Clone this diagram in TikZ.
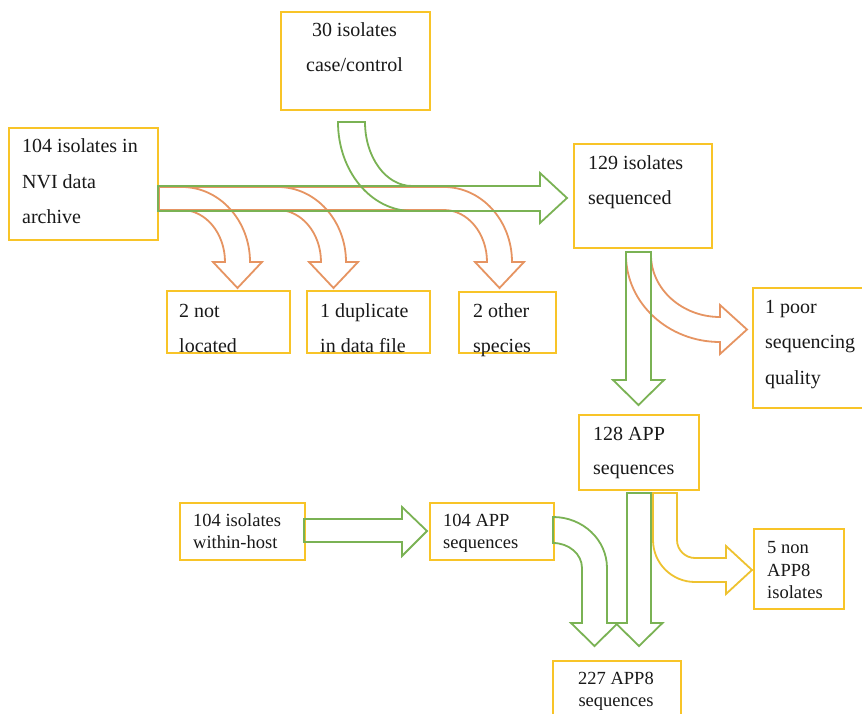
\documentclass[tikz,border=0pt]{standalone}
\usepackage{fontspec}
\setmainfont{Liberation Serif}
\newfontfamily\flowfont{Liberation Serif}
\usetikzlibrary{calc}

\definecolor{boxgold}{RGB}{248,196,40}
\definecolor{flowgreen}{RGB}{122,178,84}
\definecolor{floworange}{RGB}{230,148,98}
\definecolor{flowyellow}{RGB}{238,194,48}
\definecolor{inkgrey}{RGB}{25,25,25}

\tikzset{
  box/.style={draw=boxgold, line width=2.2pt, fill=none, inner sep=0pt, anchor=north west},
  bigtxt/.style={inner sep=0pt, text=inkgrey, font=\flowfont\fontsize{20}{35}\selectfont},
  smalltxt/.style={inner sep=0pt, text=inkgrey, font=\flowfont\fontsize{18.5}{22}\selectfont},
  garrow/.style={draw=flowgreen, line width=1.8pt, line join=miter},
  oarrow/.style={draw=floworange, line width=1.8pt, line join=miter},
  yarrow/.style={draw=flowyellow, line width=1.8pt, line join=miter}
}

\begin{document}
\begin{tikzpicture}[x=1pt, y=-1pt]
  \fill[white] (0,0) rectangle (862,714);
  \useasboundingbox (0,0) rectangle (862,714);

  % ---- boxes ----
  \node[box, minimum width=149, minimum height=98]  (b30)   at (280,11)  {};
  \node[box, minimum width=149, minimum height=112] (bNVI)  at (8,127)   {};
  \node[box, minimum width=138, minimum height=104] (bSeq)  at (573,143) {};
  \node[box, minimum width=123, minimum height=62]  (bNL)   at (166,290) {};
  \node[box, minimum width=123, minimum height=62]  (bDup)  at (306,290) {};
  \node[box, minimum width=97,  minimum height=61]  (bOth)  at (458,291) {};
  \node[box, minimum width=116, minimum height=120] (bPoor) at (752,287) {};
  \node[box, minimum width=120, minimum height=75]  (b128)  at (578,414) {};
  \node[box, minimum width=125, minimum height=57]  (bWH)   at (179,502) {};
  \node[box, minimum width=124, minimum height=57]  (bAPP)  at (429,502) {};
  \node[box, minimum width=90,  minimum height=80]  (bNon)  at (753,528) {};
  \node[box, minimum width=128, minimum height=60]  (b227)  at (552,660) {};

  % ---- labels ----
  \node[bigtxt, anchor=base] (t30) at (354.5,37)
    {\begin{tabular}[t]{@{}c@{}}30 isolates\\case/control\end{tabular}};
  \node[bigtxt, anchor=base west, font=\flowfont\fontsize{20}{35.5}\selectfont] (tNVI) at (22,153)
    {\begin{tabular}[t]{@{}l@{}}104 isolates in\\NVI data\\archive\end{tabular}};
  \node[bigtxt, anchor=base west, font=\flowfont\fontsize{20}{34.5}\selectfont] (tSeq) at (588,170)
    {\begin{tabular}[t]{@{}l@{}}129 isolates\\sequenced\end{tabular}};
  \node[bigtxt, anchor=base west] (tNL) at (179,317)
    {\begin{tabular}[t]{@{}l@{}}2 not\\located\end{tabular}};
  \node[bigtxt, anchor=base west] (tDup) at (320,317)
    {\begin{tabular}[t]{@{}l@{}}1 duplicate\\in data file\end{tabular}};
  \node[bigtxt, anchor=base west] (tOth) at (473,317)
    {\begin{tabular}[t]{@{}l@{}}2 other\\species\end{tabular}};
  \node[bigtxt, anchor=base west, font=\flowfont\fontsize{20}{35.5}\selectfont] (tPoor) at (765,313)
    {\begin{tabular}[t]{@{}l@{}}1 poor\\sequencing\\quality\end{tabular}};
  \node[bigtxt, anchor=base west, font=\flowfont\fontsize{20}{34}\selectfont] (t128) at (593,440)
    {\begin{tabular}[t]{@{}l@{}}128 APP\\sequences\end{tabular}};
  \node[smalltxt, anchor=base west] (tWH) at (193,526.5)
    {\begin{tabular}[t]{@{}l@{}}104 isolates\\within-host\end{tabular}};
  \node[smalltxt, anchor=base west] (tAPP) at (443,526.5)
    {\begin{tabular}[t]{@{}l@{}}104 APP\\sequences\end{tabular}};
  \node[smalltxt, anchor=base west, font=\flowfont\fontsize{18.5}{22.5}\selectfont] (tNon) at (767,553.5)
    {\begin{tabular}[t]{@{}l@{}}5 non\\APP8\\isolates\end{tabular}};
  \node[smalltxt, anchor=base] (t227) at (616,684.5)
    {\begin{tabular}[t]{@{}c@{}}227 APP8\\sequences\end{tabular}};

  % ---- exclusions branching off the archive arrow ----
  \foreach \s in {182,278,444} {
    \draw[oarrow] (159,187) -- (\s,187)
      .. controls ({\s+37.6},187) and ({\s+68},220.6) .. ({\s+68},262)
      -- ({\s+80},262) -- ({\s+55.5},288) -- ({\s+31},262) -- ({\s+43},262)
      .. controls ({\s+43},233.3) and ({\s+23.7},210) .. (\s,210)
      -- (159,210) -- cycle;
  }

  % ---- archive -> sequenced ----
  \draw[garrow] (158,186) -- (540,186) -- (540,173) -- (567,198)
    -- (540,223) -- (540,211) -- (158,211) -- cycle;

  % ---- case/control merging into the main arrow ----
  \draw[garrow] (412,211) .. controls (371.1,211) and (338,171.2) .. (338,122)
    -- (365,122) .. controls (365,157.3) and (386,186) .. (412,186);

  % ---- sequenced -> poor quality ----
  \draw[oarrow] (626,252) -- (626,255)
    .. controls (626,303) and (668,342) .. (720,342)
    -- (720,354) -- (747,329.5) -- (720,305) -- (720,317)
    .. controls (682,317) and (651,289) .. (651,255) -- (651,252);

  % ---- sequenced -> 128 APP ----
  \draw[garrow] (626,252) -- (651,252) -- (651,380) -- (664,380)
    -- (638.5,405) -- (613,380) -- (626,380) -- cycle;

  % ---- within-host -> 104 APP ----
  \draw[garrow] (304,519) -- (402,519) -- (402,507) -- (427,531)
    -- (402,556) -- (402,542) -- (304,542) -- cycle;

  % ---- 104 APP -> 227 ----
  \draw[garrow] (553,517) .. controls (582.8,517) and (607,539.8) .. (607,568)
    -- (607,623) -- (618,623) -- (594.5,646) -- (571,623) -- (582,623)
    -- (582,568) .. controls (582,554.2) and (569,543) .. (553,543) -- cycle;

  % ---- 128 APP -> 227 ----
  \draw[garrow] (627,493) -- (651,493) -- (651,623) -- (662.5,623)
    -- (639,646) -- (615.5,623) -- (627,623) -- cycle;

  % ---- 128 APP -> non APP8 ----
  \draw[yarrow] (653,493) -- (653,540)
    .. controls (653,563.2) and (671.8,582) .. (695,582)
    -- (726,582) -- (726,594) -- (752,570) -- (726,546) -- (726,558)
    -- (695,558) .. controls (685.1,558) and (677,549.9) .. (677,540)
    -- (677,493) -- cycle;
\end{tikzpicture}
\end{document}
